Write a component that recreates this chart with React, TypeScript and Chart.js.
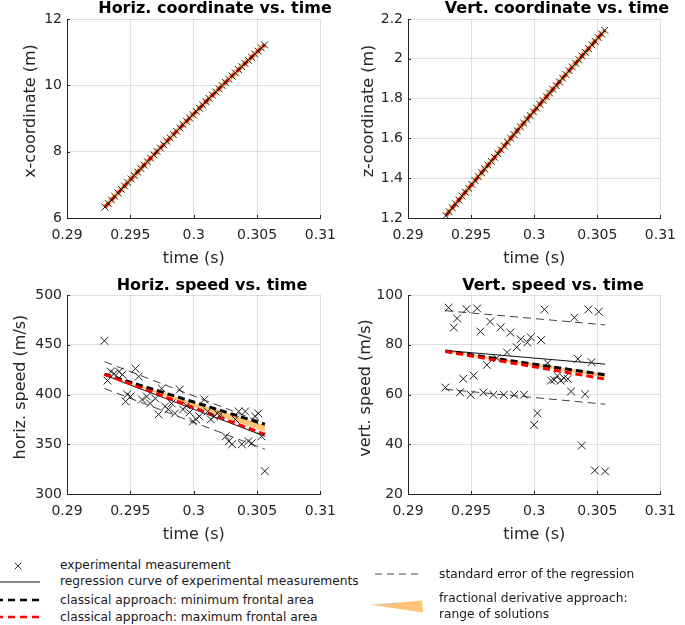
import React, { useEffect, useRef } from 'react';
import { Chart, registerables } from 'chart.js';

Chart.register(...registerables);
Chart.defaults.font.family = "'DejaVu Sans', sans-serif";

const FONT = "'DejaVu Sans', sans-serif";
const AXIS = '#262626';
const GRID = 'rgba(38,38,38,0.15)';
const ORANGE = 'rgb(255,196,118)';
const RED = '#ff0000';

// ---------- tick labels ----------
const timeTicks = [0.29, 0.295, 0.3, 0.305, 0.31];
const xCoordTicks = [6, 8, 10, 12];
const zCoordTicks = [1.2, 1.4, 1.6, 1.8, 2, 2.2];
const hSpeedTicks = [300, 350, 400, 450, 500];
const vSpeedTicks = [20, 40, 60, 80, 100];

// ---------- position measurements ----------
const posTime = [
  0.293, 0.29326, 0.29351, 0.29377, 0.29403, 0.29429, 0.29454, 0.2948, 0.29506, 0.29531,
  0.29557, 0.29583, 0.29608, 0.29634, 0.2966, 0.29686, 0.29711, 0.29737, 0.29763, 0.29788,
  0.29814, 0.2984, 0.29865, 0.29891, 0.29917, 0.29943, 0.29968, 0.29994, 0.3002, 0.30045,
  0.30071, 0.30097, 0.30122, 0.30148, 0.30174, 0.302, 0.30225, 0.30251, 0.30277, 0.30302,
  0.30328, 0.30354, 0.30379, 0.30405, 0.30431, 0.30457, 0.30482, 0.30508, 0.30534, 0.30559,
];
const xCoord = [
  6.33, 6.437, 6.544, 6.65, 6.756, 6.862, 6.968, 7.073, 7.178, 7.282,
  7.387, 7.491, 7.594, 7.698, 7.801, 7.904, 8.006, 8.108, 8.21, 8.312,
  8.413, 8.514, 8.615, 8.715, 8.815, 8.915, 9.015, 9.114, 9.213, 9.311,
  9.41, 9.508, 9.605, 9.703, 9.8, 9.897, 9.993, 10.089, 10.185, 10.281,
  10.376, 10.471, 10.566, 10.66, 10.754, 10.848, 10.942, 11.035, 11.128, 11.22,
];
const zCoord = [
  1.212, 1.2317, 1.2514, 1.271, 1.2906, 1.3102, 1.3298, 1.3493, 1.3688, 1.3883,
  1.4077, 1.4271, 1.4465, 1.4658, 1.4852, 1.5045, 1.5237, 1.543, 1.5622, 1.5813,
  1.6005, 1.6196, 1.6387, 1.6578, 1.6768, 1.6958, 1.7148, 1.7337, 1.7526, 1.7715,
  1.7904, 1.8092, 1.828, 1.8468, 1.8655, 1.8842, 1.9029, 1.9216, 1.9402, 1.9588,
  1.9774, 1.9959, 2.0144, 2.0329, 2.0514, 2.0698, 2.0882, 2.1066, 2.1249, 2.1432,
];

// ---------- horizontal speed ----------
const hTime = [
  0.29295, 0.2932, 0.29346, 0.29372, 0.29411, 0.29437, 0.29463, 0.29475, 0.29501, 0.2954,
  0.29566, 0.29592, 0.2963, 0.29656, 0.29697, 0.29723, 0.29748, 0.29774, 0.298, 0.29826,
  0.29852, 0.2989, 0.29916, 0.29942, 0.29968, 0.29994, 0.30019, 0.30045, 0.30084, 0.3011,
  0.30135, 0.30161, 0.30187, 0.30213, 0.30252, 0.30277, 0.30303, 0.30329, 0.30355, 0.3038,
  0.30406, 0.30432, 0.30458, 0.30484, 0.3051, 0.30535, 0.30561,
];
const hSpeed = [
  454, 414, 423, 421, 423, 420, 393, 400, 398, 426,
  418, 395, 398, 391, 396, 380, 406, 388, 385, 391,
  381, 405, 385, 389, 382, 373, 375, 378, 395, 383,
  375, 378, 381, 380, 358, 353, 350, 375, 383, 350,
  383, 353, 351, 378, 381, 358, 323,
];

// ---------- vertical speed ----------
const vTime = [
  0.29296, 0.29322, 0.29363, 0.29389, 0.29412, 0.29438, 0.29463, 0.29497, 0.2952, 0.29548,
  0.29574, 0.29597, 0.29626, 0.29651, 0.29677, 0.29703, 0.29734, 0.29759, 0.29785, 0.29811,
  0.29842, 0.29862, 0.29893, 0.29919, 0.29945, 0.29973, 0.29999, 0.30025, 0.30055, 0.30081,
  0.30107, 0.30133, 0.30158, 0.30184, 0.3021, 0.30236, 0.30266, 0.30292, 0.30318, 0.30346,
  0.30377, 0.30403, 0.30429, 0.30454, 0.3048, 0.30511, 0.30562,
];
const vSpeed = [
  62.8, 94.9, 86.9, 90.6, 60.9, 66.3, 94.3, 59.9, 67.6, 94.6,
  85.3, 60.8, 71.9, 89.3, 59.9, 74.6, 87.0, 59.9, 76.9, 84.9,
  59.9, 79.0, 82.2, 59.9, 80.9, 83.0, 47.8, 52.5, 81.9, 94.2,
  72.6, 65.6, 65.9, 67.5, 65.6, 66.6, 66.3, 61.2, 90.9, 74.3,
  39.5, 60.1, 94.2, 73.0, 29.5, 93.3, 29.1,
];

// ---------- fitted / model curves (start, end) ----------
const fitTime = [0.29296, 0.30562];
const hRegression = [419.5, 358];
const hSEUpper = [433, 371];
const hSELower = [406, 345];
const hClassicalMin = [420.5, 370];
const hClassicalMax = [420.3, 360];
const hFracUpper = [420.6, 369];
const hFracLower = [420.0, 362.5];

const vRegression = [77.7, 72.2];
const vSEUpper = [93.7, 88.0];
const vSELower = [62.1, 56.1];
const vClassicalMin = [77.5, 67.9];
const vClassicalMax = [77.3, 66.2];
const vFracUpper = [77.6, 68.4];
const vFracLower = [77.2, 66.8];

// ---------- helpers ----------
const pts = (xs: number[], ys: number[]) => xs.map((x, i) => ({ x, y: ys[i] }));
const fmt = (v: number) => String(Number(Number(v).toFixed(4)));

function markers(xs: number[], ys: number[], r: number) {
  return {
    type: 'line',
    data: pts(xs, ys),
    showLine: false,
    pointStyle: 'crossRot',
    pointRadius: r,
    pointHoverRadius: r,
    pointBorderColor: '#1f1f1f',
    pointBorderWidth: 1,
    pointBackgroundColor: 'rgba(0,0,0,0)',
  };
}

function curve(xs: number[], ys: number[], color: string, width: number, dash: number[], extra: any = {}) {
  return {
    type: 'line',
    data: pts(xs, ys),
    borderColor: color,
    borderWidth: width,
    borderDash: dash,
    pointRadius: 0,
    pointHoverRadius: 0,
    fill: false,
    tension: 0,
    ...extra,
  };
}

const inwardTicks = {
  id: 'inwardTicks',
  afterDraw(chart: any) {
    const { ctx, chartArea, scales } = chart;
    ctx.save();
    ctx.strokeStyle = AXIS;
    ctx.lineWidth = 1;
    scales.x.ticks.forEach((t: any) => {
      const px = Math.round(scales.x.getPixelForValue(t.value)) + 0.5;
      ctx.beginPath();
      ctx.moveTo(px, chartArea.bottom);
      ctx.lineTo(px, chartArea.bottom - 3);
      ctx.stroke();
    });
    scales.y.ticks.forEach((t: any) => {
      const py = Math.round(scales.y.getPixelForValue(t.value)) + 0.5;
      ctx.beginPath();
      ctx.moveTo(chartArea.left, py);
      ctx.lineTo(chartArea.left + 3, py);
      ctx.stroke();
    });
    ctx.restore();
  },
};

function makeConfig(datasets: any[], yMin: number, yMax: number, yTicks: number[], rightPad: number) {
  return {
    type: 'line',
    data: { datasets },
    plugins: [inwardTicks],
    options: {
      responsive: false,
      animation: false,
      events: [],
      layout: { padding: { top: 19, right: rightPad, left: 0, bottom: 0 } },
      plugins: {
        legend: { display: false },
        tooltip: { enabled: false },
        title: { display: false },
      },
      scales: {
        x: {
          type: 'linear',
          min: 0.29,
          max: 0.31,
          afterBuildTicks: (s: any) => {
            s.ticks = timeTicks.map((v) => ({ value: v }));
          },
          afterFit: (s: any) => {
            s.height = 52;
          },
          grid: { color: GRID, drawTicks: false, lineWidth: 1 },
          border: { display: true, color: AXIS, width: 1 },
          ticks: {
            padding: 9,
            color: AXIS,
            font: { size: 14, family: FONT },
            maxRotation: 0,
            autoSkip: false,
            callback: (v: any) => fmt(v),
          },
          title: {
            display: true,
            text: 'time (s)',
            color: AXIS,
            font: { size: 16, family: FONT },
            padding: { top: 0, bottom: 2 },
          },
        },
        y: {
          type: 'linear',
          min: yMin,
          max: yMax,
          afterBuildTicks: (s: any) => {
            s.ticks = yTicks.map((v) => ({ value: v }));
          },
          afterFit: (s: any) => {
            s.width = 67;
          },
          grid: { color: GRID, drawTicks: false, lineWidth: 1 },
          border: { display: true, color: AXIS, width: 1 },
          ticks: {
            padding: 5,
            color: AXIS,
            font: { size: 14, family: FONT },
            autoSkip: false,
            callback: (v: any) => fmt(v),
          },
        },
      },
    },
  };
}

function Panel(props: { left: number; top: number; width: number; height: number; config: any }) {
  const ref = useRef<HTMLCanvasElement>(null);
  useEffect(() => {
    const chart = new Chart(ref.current as HTMLCanvasElement, props.config);
    return () => chart.destroy();
  }, []);
  return (
    <canvas
      ref={ref}
      width={props.width}
      height={props.height}
      style={{ position: 'absolute', left: props.left, top: props.top, width: props.width, height: props.height }}
    />
  );
}

function Title(props: { cx: number; top: number; text: string }) {
  return (
    <div
      style={{
        position: 'absolute',
        left: props.cx,
        top: props.top,
        transform: 'translateX(-50%)',
        font: `bold 16px ${FONT}`,
        lineHeight: '16px',
        whiteSpace: 'nowrap',
        color: '#000',
      }}
    >
      {props.text}
    </div>
  );
}

function YTitle(props: { cx: number; cy: number; text: string }) {
  return (
    <div
      style={{
        position: 'absolute',
        left: props.cx,
        top: props.cy,
        transform: 'translate(-50%,-50%) rotate(-90deg)',
        font: `16px ${FONT}`,
        lineHeight: '16px',
        whiteSpace: 'nowrap',
        color: AXIS,
      }}
    >
      {props.text}
    </div>
  );
}

function LegendText(props: { left: number; top: number; text: string }) {
  return (
    <div
      style={{
        position: 'absolute',
        left: props.left,
        top: props.top,
        font: `12.25px ${FONT}`,
        lineHeight: '14px',
        whiteSpace: 'nowrap',
        color: '#1a1a1a',
      }}
    >
      {props.text}
    </div>
  );
}

export default function App() {
  const tlConfig = makeConfig(
    [
      markers(posTime, xCoord, 4.8),
      curve(posTime, xCoord, '#111', 1, []),
      curve(posTime, xCoord, RED, 3, [6, 3]),
      curve(posTime, xCoord, ORANGE, 5, []),
    ],
    6, 12, xCoordTicks, 20
  );
  const trConfig = makeConfig(
    [
      markers(posTime, zCoord, 4.8),
      curve(posTime, zCoord, '#111', 1, []),
      curve(posTime, zCoord, RED, 3, [6, 3]),
      curve(posTime, zCoord, ORANGE, 5, []),
    ],
    1.2, 2.2, zCoordTicks, 18
  );
  const blConfig = makeConfig(
    [
      markers(hTime, hSpeed, 5.5),
      curve(fitTime, hClassicalMax, RED, 3, [7, 4]),
      curve(fitTime, hClassicalMin, '#000', 3, [7, 4]),
      curve(fitTime, hRegression, '#111', 1, []),
      curve(fitTime, hSEUpper, 'rgba(0,0,0,0.75)', 1, [8, 5]),
      curve(fitTime, hSELower, 'rgba(0,0,0,0.75)', 1, [8, 5]),
      curve(fitTime, hFracUpper, 'rgba(0,0,0,0)', 0, [], { fill: '+1', backgroundColor: ORANGE }),
      curve(fitTime, hFracLower, 'rgba(0,0,0,0)', 0, []),
    ],
    300, 500, hSpeedTicks, 20
  );
  const brConfig = makeConfig(
    [
      markers(vTime, vSpeed, 5.5),
      curve(fitTime, vClassicalMax, RED, 3, [7, 4]),
      curve(fitTime, vClassicalMin, '#000', 3, [7, 4]),
      curve(fitTime, vRegression, '#111', 1, []),
      curve(fitTime, vSEUpper, 'rgba(0,0,0,0.75)', 1, [8, 5]),
      curve(fitTime, vSELower, 'rgba(0,0,0,0.75)', 1, [8, 5]),
      curve(fitTime, vFracUpper, 'rgba(0,0,0,0)', 0, [], { fill: '+1', backgroundColor: ORANGE }),
      curve(fitTime, vFracLower, 'rgba(0,0,0,0)', 0, []),
    ],
    20, 100, vSpeedTicks, 18
  );

  return (
    <div
      style={{
        position: 'absolute',
        left: 0,
        top: 0,
        width: 685,
        height: 625,
        overflow: 'hidden',
        background: '#fff',
        fontFamily: FONT,
      }}
    >
      <Panel left={0} top={0} width={345} height={270} config={tlConfig} />
      <Panel left={341} top={0} width={344} height={270} config={trConfig} />
      <Panel left={0} top={276} width={345} height={270} config={blConfig} />
      <Panel left={341} top={276} width={344} height={270} config={brConfig} />

      <Title cx={215} top={0} text="Horiz. coordinate vs. time" />
      <Title cx={557} top={0} text="Vert. coordinate vs. time" />
      <Title cx={212} top={276.5} text="Horiz. speed vs. time" />
      <Title cx={553} top={276.5} text="Vert. speed vs. time" />

      <YTitle cx={30} cy={111} text="x-coordinate (m)" />
      <YTitle cx={368} cy={111} text="z-coordinate (m)" />
      <YTitle cx={20} cy={387} text="horiz. speed (m/s)" />
      <YTitle cx={365} cy={388} text="vert. speed (m/s)" />

      <svg style={{ position: 'absolute', left: 0, top: 555 }} width={685} height={70}>
        <line x1={14.5} y1={7.5} x2={21.5} y2={14.5} stroke="#333" strokeWidth={1} />
        <line x1={14.5} y1={14.5} x2={21.5} y2={7.5} stroke="#333" strokeWidth={1} />
        <line x1={0} y1={27} x2={40} y2={27} stroke="#111" strokeWidth={1} />
        <line x1={0} y1={45} x2={40} y2={45} stroke="#000" strokeWidth={2.5} strokeDasharray="7 5" strokeDashoffset={4} />
        <line x1={0} y1={62} x2={40} y2={62} stroke={RED} strokeWidth={2.5} strokeDasharray="7 5" strokeDashoffset={4} />
        <line x1={375} y1={19} x2={421} y2={19} stroke="#444" strokeWidth={1} strokeDasharray="7 5" />
        <polygon points="372,50 422,45.5 423,57.5" fill={ORANGE} />
        <line x1={372} y1={49.5} x2={398} y2={48.5} stroke="#999" strokeWidth={0.6} strokeDasharray="1 1" />
      </svg>

      <LegendText left={60} top={558} text="experimental measurement" />
      <LegendText left={60} top={574} text="regression curve of experimental measurements" />
      <LegendText left={60} top={593} text="classical approach: minimum frontal area" />
      <LegendText left={60} top={610} text="classical approach: maximum frontal area" />
      <LegendText left={439} top={567} text="standard error of the regression" />
      <LegendText left={439} top={591} text="fractional derivative approach:" />
      <LegendText left={439} top={606.5} text="range of solutions" />
    </div>
  );
}
